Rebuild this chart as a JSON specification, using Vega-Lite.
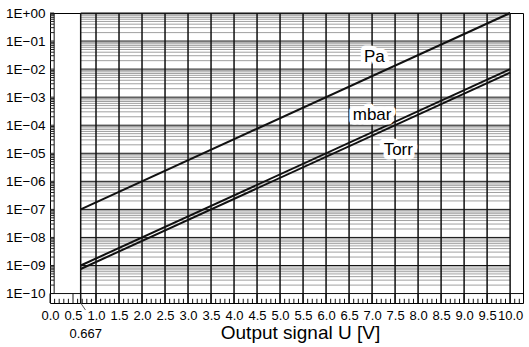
{
  "$schema": "https://vega.github.io/schema/vega-lite/v6.json",
  "width": 473,
  "height": 290,
  "autosize": "none",
  "padding": {"left": 50, "top": 13, "right": 6, "bottom": 44},
  "config": {
    "view": {"stroke": "black", "strokeWidth": 1},
    "font": "Liberation Sans"
  },
  "datasets": {
    "grid": [
      {"v": 1e-10, "k": "major"}, {"v": 2e-10, "k": "minor"}, {"v": 3e-10, "k": "minor"}, {"v": 4e-10, "k": "minor"}, {"v": 5e-10, "k": "minor"}, {"v": 6e-10, "k": "minor"}, {"v": 7e-10, "k": "minor"}, {"v": 8e-10, "k": "minor"}, {"v": 9e-10, "k": "minor"},
      {"v": 1e-9, "k": "major"}, {"v": 2e-9, "k": "minor"}, {"v": 3e-9, "k": "minor"}, {"v": 4e-9, "k": "minor"}, {"v": 5e-9, "k": "minor"}, {"v": 6e-9, "k": "minor"}, {"v": 7e-9, "k": "minor"}, {"v": 8e-9, "k": "minor"}, {"v": 9e-9, "k": "minor"},
      {"v": 1e-8, "k": "major"}, {"v": 2e-8, "k": "minor"}, {"v": 3e-8, "k": "minor"}, {"v": 4e-8, "k": "minor"}, {"v": 5e-8, "k": "minor"}, {"v": 6e-8, "k": "minor"}, {"v": 7e-8, "k": "minor"}, {"v": 8e-8, "k": "minor"}, {"v": 9e-8, "k": "minor"},
      {"v": 1e-7, "k": "major"}, {"v": 2e-7, "k": "minor"}, {"v": 3e-7, "k": "minor"}, {"v": 4e-7, "k": "minor"}, {"v": 5e-7, "k": "minor"}, {"v": 6e-7, "k": "minor"}, {"v": 7e-7, "k": "minor"}, {"v": 8e-7, "k": "minor"}, {"v": 9e-7, "k": "minor"},
      {"v": 1e-6, "k": "major"}, {"v": 2e-6, "k": "minor"}, {"v": 3e-6, "k": "minor"}, {"v": 4e-6, "k": "minor"}, {"v": 5e-6, "k": "minor"}, {"v": 6e-6, "k": "minor"}, {"v": 7e-6, "k": "minor"}, {"v": 8e-6, "k": "minor"}, {"v": 9e-6, "k": "minor"},
      {"v": 1e-5, "k": "major"}, {"v": 2e-5, "k": "minor"}, {"v": 3e-5, "k": "minor"}, {"v": 4e-5, "k": "minor"}, {"v": 5e-5, "k": "minor"}, {"v": 6e-5, "k": "minor"}, {"v": 7e-5, "k": "minor"}, {"v": 8e-5, "k": "minor"}, {"v": 9e-5, "k": "minor"},
      {"v": 1e-4, "k": "major"}, {"v": 2e-4, "k": "minor"}, {"v": 3e-4, "k": "minor"}, {"v": 4e-4, "k": "minor"}, {"v": 5e-4, "k": "minor"}, {"v": 6e-4, "k": "minor"}, {"v": 7e-4, "k": "minor"}, {"v": 8e-4, "k": "minor"}, {"v": 9e-4, "k": "minor"},
      {"v": 1e-3, "k": "major"}, {"v": 2e-3, "k": "minor"}, {"v": 3e-3, "k": "minor"}, {"v": 4e-3, "k": "minor"}, {"v": 5e-3, "k": "minor"}, {"v": 6e-3, "k": "minor"}, {"v": 7e-3, "k": "minor"}, {"v": 8e-3, "k": "minor"}, {"v": 9e-3, "k": "minor"},
      {"v": 1e-2, "k": "major"}, {"v": 2e-2, "k": "minor"}, {"v": 3e-2, "k": "minor"}, {"v": 4e-2, "k": "minor"}, {"v": 5e-2, "k": "minor"}, {"v": 6e-2, "k": "minor"}, {"v": 7e-2, "k": "minor"}, {"v": 8e-2, "k": "minor"}, {"v": 9e-2, "k": "minor"},
      {"v": 1e-1, "k": "major"}, {"v": 2e-1, "k": "minor"}, {"v": 3e-1, "k": "minor"}, {"v": 4e-1, "k": "minor"}, {"v": 5e-1, "k": "minor"}, {"v": 6e-1, "k": "minor"}, {"v": 7e-1, "k": "minor"}, {"v": 8e-1, "k": "minor"}, {"v": 9e-1, "k": "minor"},
      {"v": 1, "k": "major"}
    ],
    "vgrid": [
      {"u": 0.667}, {"u": 1.0}, {"u": 1.5}, {"u": 2.0}, {"u": 2.5}, {"u": 3.0}, {"u": 3.5}, {"u": 4.0}, {"u": 4.5}, {"u": 5.0},
      {"u": 5.5}, {"u": 6.0}, {"u": 6.5}, {"u": 7.0}, {"u": 7.5}, {"u": 8.0}, {"u": 8.5}, {"u": 9.0}, {"u": 9.5}, {"u": 10.0}
    ],
    "xticks": [
      {"u": 0.0, "k": "major"}, {"u": 0.1, "k": "minor"}, {"u": 0.2, "k": "minor"}, {"u": 0.3, "k": "minor"}, {"u": 0.4, "k": "minor"},
      {"u": 0.5, "k": "major"}, {"u": 0.6, "k": "minor"}, {"u": 0.7, "k": "minor"}, {"u": 0.8, "k": "minor"}, {"u": 0.9, "k": "minor"},
      {"u": 1.0, "k": "major"}, {"u": 1.1, "k": "minor"}, {"u": 1.2, "k": "minor"}, {"u": 1.3, "k": "minor"}, {"u": 1.4, "k": "minor"},
      {"u": 1.5, "k": "major"}, {"u": 1.6, "k": "minor"}, {"u": 1.7, "k": "minor"}, {"u": 1.8, "k": "minor"}, {"u": 1.9, "k": "minor"},
      {"u": 2.0, "k": "major"}, {"u": 2.1, "k": "minor"}, {"u": 2.2, "k": "minor"}, {"u": 2.3, "k": "minor"}, {"u": 2.4, "k": "minor"},
      {"u": 2.5, "k": "major"}, {"u": 2.6, "k": "minor"}, {"u": 2.7, "k": "minor"}, {"u": 2.8, "k": "minor"}, {"u": 2.9, "k": "minor"},
      {"u": 3.0, "k": "major"}, {"u": 3.1, "k": "minor"}, {"u": 3.2, "k": "minor"}, {"u": 3.3, "k": "minor"}, {"u": 3.4, "k": "minor"},
      {"u": 3.5, "k": "major"}, {"u": 3.6, "k": "minor"}, {"u": 3.7, "k": "minor"}, {"u": 3.8, "k": "minor"}, {"u": 3.9, "k": "minor"},
      {"u": 4.0, "k": "major"}, {"u": 4.1, "k": "minor"}, {"u": 4.2, "k": "minor"}, {"u": 4.3, "k": "minor"}, {"u": 4.4, "k": "minor"},
      {"u": 4.5, "k": "major"}, {"u": 4.6, "k": "minor"}, {"u": 4.7, "k": "minor"}, {"u": 4.8, "k": "minor"}, {"u": 4.9, "k": "minor"},
      {"u": 5.0, "k": "major"}, {"u": 5.1, "k": "minor"}, {"u": 5.2, "k": "minor"}, {"u": 5.3, "k": "minor"}, {"u": 5.4, "k": "minor"},
      {"u": 5.5, "k": "major"}, {"u": 5.6, "k": "minor"}, {"u": 5.7, "k": "minor"}, {"u": 5.8, "k": "minor"}, {"u": 5.9, "k": "minor"},
      {"u": 6.0, "k": "major"}, {"u": 6.1, "k": "minor"}, {"u": 6.2, "k": "minor"}, {"u": 6.3, "k": "minor"}, {"u": 6.4, "k": "minor"},
      {"u": 6.5, "k": "major"}, {"u": 6.6, "k": "minor"}, {"u": 6.7, "k": "minor"}, {"u": 6.8, "k": "minor"}, {"u": 6.9, "k": "minor"},
      {"u": 7.0, "k": "major"}, {"u": 7.1, "k": "minor"}, {"u": 7.2, "k": "minor"}, {"u": 7.3, "k": "minor"}, {"u": 7.4, "k": "minor"},
      {"u": 7.5, "k": "major"}, {"u": 7.6, "k": "minor"}, {"u": 7.7, "k": "minor"}, {"u": 7.8, "k": "minor"}, {"u": 7.9, "k": "minor"},
      {"u": 8.0, "k": "major"}, {"u": 8.1, "k": "minor"}, {"u": 8.2, "k": "minor"}, {"u": 8.3, "k": "minor"}, {"u": 8.4, "k": "minor"},
      {"u": 8.5, "k": "major"}, {"u": 8.6, "k": "minor"}, {"u": 8.7, "k": "minor"}, {"u": 8.8, "k": "minor"}, {"u": 8.9, "k": "minor"},
      {"u": 9.0, "k": "major"}, {"u": 9.1, "k": "minor"}, {"u": 9.2, "k": "minor"}, {"u": 9.3, "k": "minor"}, {"u": 9.4, "k": "minor"},
      {"u": 9.5, "k": "major"}, {"u": 9.6, "k": "minor"}, {"u": 9.7, "k": "minor"}, {"u": 9.8, "k": "minor"}, {"u": 9.9, "k": "minor"},
      {"u": 10.0, "k": "major"}, {"u": 10.1, "k": "minor"}, {"u": 10.2, "k": "minor"}
    ],
    "curves": [
      {"s": "Pa", "U": 0.667, "p": 1e-7}, {"s": "Pa", "U": 10, "p": 1},
      {"s": "mbar", "U": 0.667, "p": 1e-9}, {"s": "mbar", "U": 10, "p": 1e-2},
      {"s": "Torr", "U": 0.667, "p": 7.5e-10}, {"s": "Torr", "U": 10, "p": 7.5e-3}
    ],
    "labels": [
      {"t": "Pa", "U": 7.05, "p": 2.8e-2},
      {"t": "mbar", "U": 7.0, "p": 2.4e-4},
      {"t": "Torr", "U": 7.57, "p": 1.35e-5}
    ],
    "note": [
      {"t": "0.667", "U": 0.667}
    ]
  },
  "encoding": {
    "x": {
      "type": "quantitative",
      "scale": {"domain": [0, 10.28], "nice": false, "zero": false},
      "axis": {
        "values": [0, 0.5, 1, 1.5, 2, 2.5, 3, 3.5, 4, 4.5, 5, 5.5, 6, 6.5, 7, 7.5, 8, 8.5, 9, 9.5, 10],
        "format": ".1f",
        "title": "Output signal U [V]",
        "titleFontSize": 19,
        "titleFontWeight": "normal",
        "titleColor": "black",
        "titleFont": "Liberation Sans",
        "titlePadding": 1,
        "titleX": 250,
        "grid": false,
        "ticks": false,
        "domain": false,
        "labelPadding": 6,
        "labelFontSize": 13,
        "labelColor": "black",
        "labelFont": "Liberation Sans",
        "labelOverlap": false,
        "labelFlush": false
      }
    },
    "y": {
      "type": "quantitative",
      "scale": {"type": "log", "domain": [4.6e-11, 1], "nice": false},
      "axis": {
        "values": [1e-10, 1e-9, 1e-8, 1e-7, 1e-6, 1e-5, 1e-4, 1e-3, 1e-2, 1e-1, 1],
        "labelExpr": "'1E' + (datum.value >= 0.5 ? '+00' : '\u2212' + (round(-log(datum.value)/LN10) < 10 ? '0' : '') + round(-log(datum.value)/LN10))",
        "title": null,
        "grid": false,
        "ticks": false,
        "domain": false,
        "labelPadding": 5,
        "labelFontSize": 13.5,
        "labelColor": "black",
        "labelFont": "Liberation Sans",
        "labelOverlap": false,
        "labelFlush": false
      }
    }
  },
  "layer": [
    {
      "data": {"name": "grid"},
      "transform": [{"filter": "datum.k == 'minor'"}],
      "mark": {"type": "rule", "stroke": "#a0a0a0", "strokeWidth": 1},
      "encoding": {
        "x": {"datum": 0.667, "type": "quantitative"},
        "x2": {"datum": 10},
        "y": {"field": "v", "type": "quantitative"}
      }
    },
    {
      "data": {"name": "grid"},
      "mark": {"type": "rule", "stroke": "#222", "strokeWidth": 1},
      "encoding": {
        "x": {"datum": 0, "type": "quantitative"},
        "x2": {"datum": 0.09},
        "y": {"field": "v", "type": "quantitative"}
      }
    },
    {
      "data": {"name": "grid"},
      "transform": [{"filter": "datum.k == 'major' && datum.v > 1.5e-10"}],
      "mark": {"type": "rule", "stroke": "#111", "strokeWidth": 1},
      "encoding": {
        "x": {"datum": 0.667, "type": "quantitative"},
        "x2": {"datum": 10},
        "y": {"field": "v", "type": "quantitative"}
      }
    },
    {
      "data": {"name": "grid"},
      "transform": [{"filter": "datum.v < 1.5e-10"}],
      "mark": {"type": "rule", "stroke": "#111", "strokeWidth": 1},
      "encoding": {
        "x": {"datum": 0, "type": "quantitative"},
        "x2": {"datum": 10.28},
        "y": {"field": "v", "type": "quantitative"}
      }
    },
    {
      "data": {"name": "grid"},
      "transform": [{"filter": "datum.v < 1.5e-10"}],
      "mark": {"type": "rule", "stroke": "#111", "strokeWidth": 1},
      "encoding": {
        "x": {"datum": 0.09, "type": "quantitative"},
        "y": {"datum": 1e-10, "type": "quantitative"},
        "y2": {"datum": 1}
      }
    },
    {
      "data": {"name": "vgrid"},
      "mark": {"type": "rule", "stroke": "#111", "strokeWidth": 1.5},
      "encoding": {
        "x": {"field": "u", "type": "quantitative"},
        "y": {"datum": 4.6e-11, "type": "quantitative"},
        "y2": {"datum": 1}
      }
    },
    {
      "data": {"name": "xticks"},
      "transform": [{"filter": "datum.k == 'minor'"}],
      "mark": {"type": "rule", "stroke": "#111", "strokeWidth": 1},
      "encoding": {
        "x": {"field": "u", "type": "quantitative"},
        "y": {"datum": 4.6e-11, "type": "quantitative"},
        "y2": {"datum": 6.5e-11}
      }
    },
    {
      "data": {"name": "xticks"},
      "transform": [{"filter": "datum.k == 'major'"}],
      "mark": {"type": "rule", "stroke": "#111", "strokeWidth": 1},
      "encoding": {
        "x": {"field": "u", "type": "quantitative"},
        "y": {"datum": 4.6e-11, "type": "quantitative"},
        "y2": {"datum": 1e-10}
      }
    },
    {
      "data": {"name": "note"},
      "mark": {"type": "rule", "stroke": "#555", "strokeWidth": 1},
      "encoding": {
        "x": {"field": "U", "type": "quantitative"},
        "x2": {"datum": 0.77},
        "y": {"datum": 4.6e-11, "type": "quantitative"},
        "y2": {"datum": 2.6e-11}
      }
    },
    {
      "data": {"name": "note"},
      "mark": {"type": "text", "fontSize": 13, "font": "Liberation Sans", "color": "black", "dy": 31, "dx": 5, "baseline": "middle", "align": "center"},
      "encoding": {
        "x": {"field": "U", "type": "quantitative"},
        "y": {"datum": 4.6e-11, "type": "quantitative"},
        "text": {"field": "t"}
      }
    },
    {
      "data": {"name": "curves"},
      "mark": {"type": "line", "stroke": "#111", "strokeWidth": 2},
      "encoding": {
        "x": {"field": "U", "type": "quantitative"},
        "y": {"field": "p", "type": "quantitative"},
        "detail": {"field": "s"}
      }
    },
    {
      "data": {"name": "labels"},
      "mark": {"type": "text", "fontSize": 17, "font": "Liberation Sans", "stroke": "white", "strokeWidth": 9, "strokeJoin": "round", "fill": "white", "baseline": "middle", "align": "center"},
      "encoding": {
        "x": {"field": "U", "type": "quantitative"},
        "y": {"field": "p", "type": "quantitative"},
        "text": {"field": "t"}
      }
    },
    {
      "data": {"name": "labels"},
      "mark": {"type": "text", "fontSize": 17, "font": "Liberation Sans", "fill": "black", "baseline": "middle", "align": "center"},
      "encoding": {
        "x": {"field": "U", "type": "quantitative"},
        "y": {"field": "p", "type": "quantitative"},
        "text": {"field": "t"}
      }
    }
  ]
}
